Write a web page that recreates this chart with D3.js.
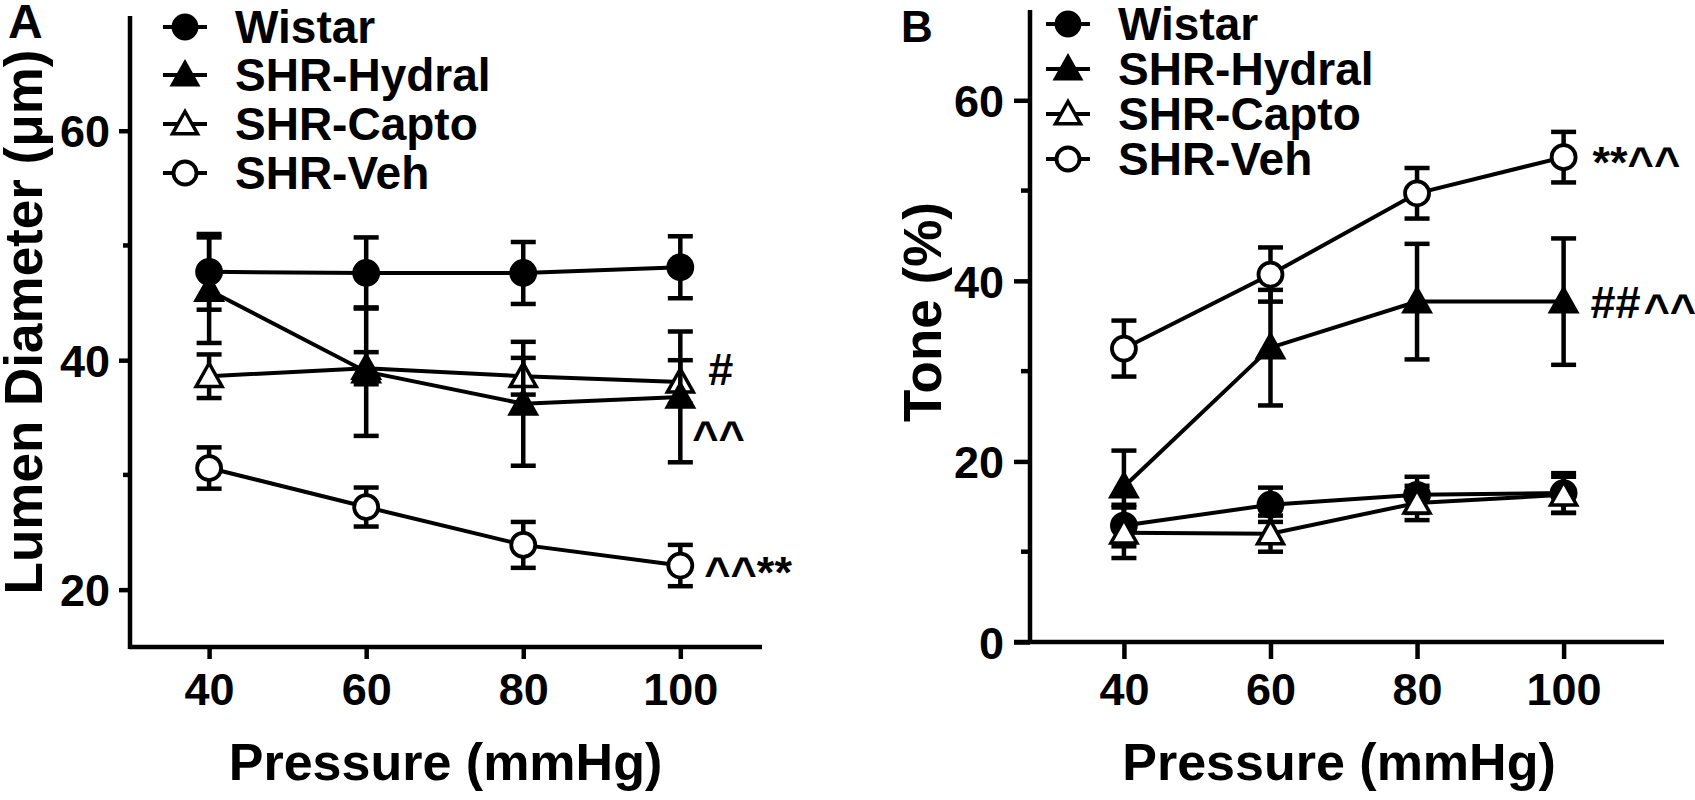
<!DOCTYPE html>
<html><head><meta charset="utf-8">
<script src="https://cdn.jsdelivr.net/npm/d3@7"></script>
<style>
body{margin:0;background:#fff;}
svg{display:block;background:#fff;}
text{font-family:"Liberation Sans",Arial,Helvetica,sans-serif;font-weight:bold;fill:#000;}
</style>
</head><body>
<svg id="chart" width="1695" height="800"></svg>
<script>
// ---------- data ----------
const pressures = [40, 60, 80, 100];
const xTickLabels = [40, 60, 80, 100];
const seriesNames = ["Wistar", "SHR-Hydral", "SHR-Capto", "SHR-Veh"];

// Panel A: lumen diameter (µm), mean and SEM
const diamWistar = [47.7, 47.6, 47.6, 48.1];
const diamWistarSem = [3.3, 3.1, 2.7, 2.7];
const diamHydral = [46.1, 39.0, 36.2, 36.8];
const diamHydralSem = [4.6, 5.6, 5.4, 5.7];
const diamCapto = [38.6, 39.3, 38.6, 38.1];
const diamCaptoSem = [1.9, 1.4, 1.6, 1.9];
const diamVeh = [30.6, 27.2, 23.9, 22.1];
const diamVehSem = [1.8, 1.7, 2.0, 1.8];
const diamYTicks = [20, 40, 60];
const diamYMinor = [30, 50];

// Panel B: tone (%), mean and SEM
const toneWistar = [12.9, 15.2, 16.3, 16.5];
const toneWistarSem = [2.3, 1.9, 2.0, 2.2];
const toneHydral = [17.2, 32.6, 37.7, 37.7];
const toneHydralSem = [4.0, 6.4, 6.4, 7.0];
const toneCapto = [12.1, 12.0, 15.4, 16.3];
const toneCaptoSem = [2.8, 2.0, 1.9, 2.0];
const toneVeh = [32.5, 40.7, 49.7, 53.7];
const toneVehSem = [3.1, 3.0, 2.8, 2.8];
const toneYTicks = [0, 20, 40, 60];
const toneYMinor = [10, 30, 50];

// significance annotations (placed next to the 100 mmHg point of a series)
const annotA = [
  {series: "SHR-Capto", text: "#", dx: 28, dy: 3},
  {series: "SHR-Hydral", text: "^^", dx: 12, dy: 55},
  {series: "SHR-Veh", text: "^^**", dx: 24, dy: 22}
];
const annotB = [
  {series: "SHR-Veh", text: "**^^", dx: 29, dy: 21},
  {series: "SHR-Hydral", text: "##", dx: 27, dy: 16},
  {series: "SHR-Hydral", text: "^^", dx: 80, dy: 23}
];

// ---------- styles ----------
const markerStyle = {
  "Wistar": {shape: "circle", fill: "#000"},
  "SHR-Hydral": {shape: "triangle", fill: "#000"},
  "SHR-Capto": {shape: "triangle", fill: "#fff"},
  "SHR-Veh": {shape: "circle", fill: "#fff"}
};
const FONT_TICK = 45;

const svg = d3.select("#chart");
svg.append("rect").attr("width", 1695).attr("height", 800).attr("fill", "#fff");

function marker(g, name, cx, cy, r) {
  const st = markerStyle[name];
  if (st.shape === "circle") {
    g.append("circle").attr("cx", cx).attr("cy", cy).attr("r", r)
      .attr("fill", st.fill).attr("stroke", "#000").attr("stroke-width", 3.8);
  } else {
    const h = r + 1;
    g.append("path")
      .attr("d", `M${cx},${cy - h} L${cx + h},${cy + h * 0.78} L${cx - h},${cy + h * 0.78} Z`)
      .attr("fill", st.fill).attr("stroke", "#000").attr("stroke-width", 3.5)
      .attr("stroke-linejoin", "miter");
  }
}

function drawPanel(p) {
  const g = svg.append("g");
  const x = d3.scaleLinear().domain(p.xDomain).range(p.xRange);
  const y = d3.scaleLinear().domain(p.yDomain).range(p.yRange);

  // y axis
  const yAx = g.append("g").attr("transform", `translate(${p.axisX},0)`)
    .call(d3.axisLeft(y).tickValues(p.yTicks).tickSize(p.tickLen).tickPadding(p.yPad).tickFormat(d3.format("d")));
  yAx.select(".domain").remove();
  yAx.attr("font-size", null).attr("font-family", null);
  yAx.selectAll(".tick line").attr("stroke", "#000").attr("stroke-width", 4.5);
  yAx.selectAll(".tick text").attr("fill", "#000").style("font-size", FONT_TICK + "px").attr("dy", "0.36em");
  g.selectAll(null).data(p.yMinor).join("line")
    .attr("x1", p.axisX).attr("x2", p.axisX - p.minorLen)
    .attr("y1", d => y(d)).attr("y2", d => y(d))
    .attr("stroke", "#000").attr("stroke-width", 4.5);
  g.append("line").attr("x1", p.axisX).attr("x2", p.axisX)
    .attr("y1", y(p.yDomain[1])).attr("y2", y(p.yDomain[0]) + 2)
    .attr("stroke", "#000").attr("stroke-width", 4.5);

  // x axis
  const xAx = g.append("g").attr("transform", `translate(0,${p.axisY})`)
    .call(d3.axisBottom(x).tickValues(xTickLabels).tickSize(p.xTickLen).tickPadding(p.xPad).tickFormat(d3.format("d")));
  xAx.select(".domain").remove();
  xAx.attr("font-size", null).attr("font-family", null);
  xAx.selectAll(".tick line").attr("stroke", "#000").attr("stroke-width", 4.5);
  xAx.selectAll(".tick text").attr("fill", "#000").style("font-size", FONT_TICK + "px");
  g.append("line").attr("x1", x(p.xDomain[0])).attr("x2", x(p.xDomain[1]))
    .attr("y1", p.axisY).attr("y2", p.axisY)
    .attr("stroke", "#000").attr("stroke-width", 4.5);

  // titles
  g.append("text").attr("x", (x.range()[0] + x.range()[1]) / 2).attr("y", p.xTitleY)
    .attr("text-anchor", "middle").style("font-size", "52px").text("Pressure (mmHg)");
  g.append("text").attr("transform", `translate(${p.yTitleX},${p.yTitleY}) rotate(-90)`)
    .attr("text-anchor", "middle").style("font-size", p.yTitleSize + "px").text(p.yTitle);
  g.append("text").attr("x", p.letterX).attr("y", p.letterY)
    .style("font-size", p.letterSize + "px").text(p.letter);

  // series
  p.order.forEach(name => {
    const s = p.series[name];
    const sg = g.append("g");
    pressures.forEach((pr, i) => {
      const cx = x(pr), lo = y(s.mean[i] - s.sem[i]), hi = y(s.mean[i] + s.sem[i]);
      sg.append("line").attr("x1", cx).attr("x2", cx).attr("y1", lo).attr("y2", hi)
        .attr("stroke", "#000").attr("stroke-width", 4.5);
      [lo, hi].forEach(yy => sg.append("line").attr("x1", cx - 12.5).attr("x2", cx + 12.5)
        .attr("y1", yy).attr("y2", yy).attr("stroke", "#000").attr("stroke-width", 4.5));
    });
    sg.append("path").datum(s.mean)
      .attr("d", d3.line().x((d, i) => x(pressures[i])).y(d => y(d)))
      .attr("fill", "none").attr("stroke", "#000").attr("stroke-width", 4);
    s.mean.forEach((v, i) => marker(sg, name, x(pressures[i]), y(v), 12));
  });

  // annotations
  p.annot.forEach(a => {
    const s = p.series[a.series];
    g.append("text").attr("x", x(pressures[3]) + a.dx).attr("y", y(s.mean[3]) + a.dy)
      .style("font-size", FONT_TICK + "px").text(a.text);
  });

  // legend
  seriesNames.forEach((name, i) => {
    const ry = p.legendY[i];
    g.append("line").attr("x1", p.legendX - 22).attr("x2", p.legendX + 22)
      .attr("y1", ry).attr("y2", ry).attr("stroke", "#000").attr("stroke-width", 4);
    marker(g, name, p.legendX, ry, 11.5);
    g.append("text").attr("x", p.legendX + 50).attr("y", ry + 16)
      .style("font-size", "46px").text(name);
  });
}

drawPanel({
  xDomain: [29.8, 110.4], xRange: [129, 762],
  yDomain: [15, 70], yRange: [647, 16],
  axisX: 130, axisY: 647,
  yTicks: diamYTicks, yMinor: diamYMinor,
  tickLen: 11, minorLen: 7, yPad: 9, xTickLen: 12, xPad: 14,
  xTitleY: 780,
  yTitle: "Lumen Diameter (\u03BCm)", yTitleX: 42, yTitleY: 322, yTitleSize: 53,
  letter: "A", letterX: 8, letterY: 38, letterSize: 48,
  legendX: 185, legendY: [27, 75, 124, 173],
  order: ["SHR-Veh", "SHR-Capto", "SHR-Hydral", "Wistar"],
  series: {
    "Wistar": {mean: diamWistar, sem: diamWistarSem},
    "SHR-Hydral": {mean: diamHydral, sem: diamHydralSem},
    "SHR-Capto": {mean: diamCapto, sem: diamCaptoSem},
    "SHR-Veh": {mean: diamVeh, sem: diamVehSem}
  },
  annot: annotA
});

drawPanel({
  xDomain: [25, 113.7], xRange: [1014, 1664],
  yDomain: [0, 70], yRange: [642, 10],
  axisX: 1030, axisY: 642,
  yTicks: toneYTicks, yMinor: toneYMinor,
  tickLen: 16, minorLen: 9, yPad: 10, xTickLen: 17, xPad: 14,
  xTitleY: 780,
  yTitle: "Tone (%)", yTitleX: 941, yTitleY: 312, yTitleSize: 53,
  letter: "B", letterX: 901, letterY: 42, letterSize: 44,
  legendX: 1068, legendY: [24, 69, 114, 159],
  order: ["SHR-Veh", "SHR-Hydral", "Wistar", "SHR-Capto"],
  series: {
    "Wistar": {mean: toneWistar, sem: toneWistarSem},
    "SHR-Hydral": {mean: toneHydral, sem: toneHydralSem},
    "SHR-Capto": {mean: toneCapto, sem: toneCaptoSem},
    "SHR-Veh": {mean: toneVeh, sem: toneVehSem}
  },
  annot: annotB
});
</script>
</body></html>
